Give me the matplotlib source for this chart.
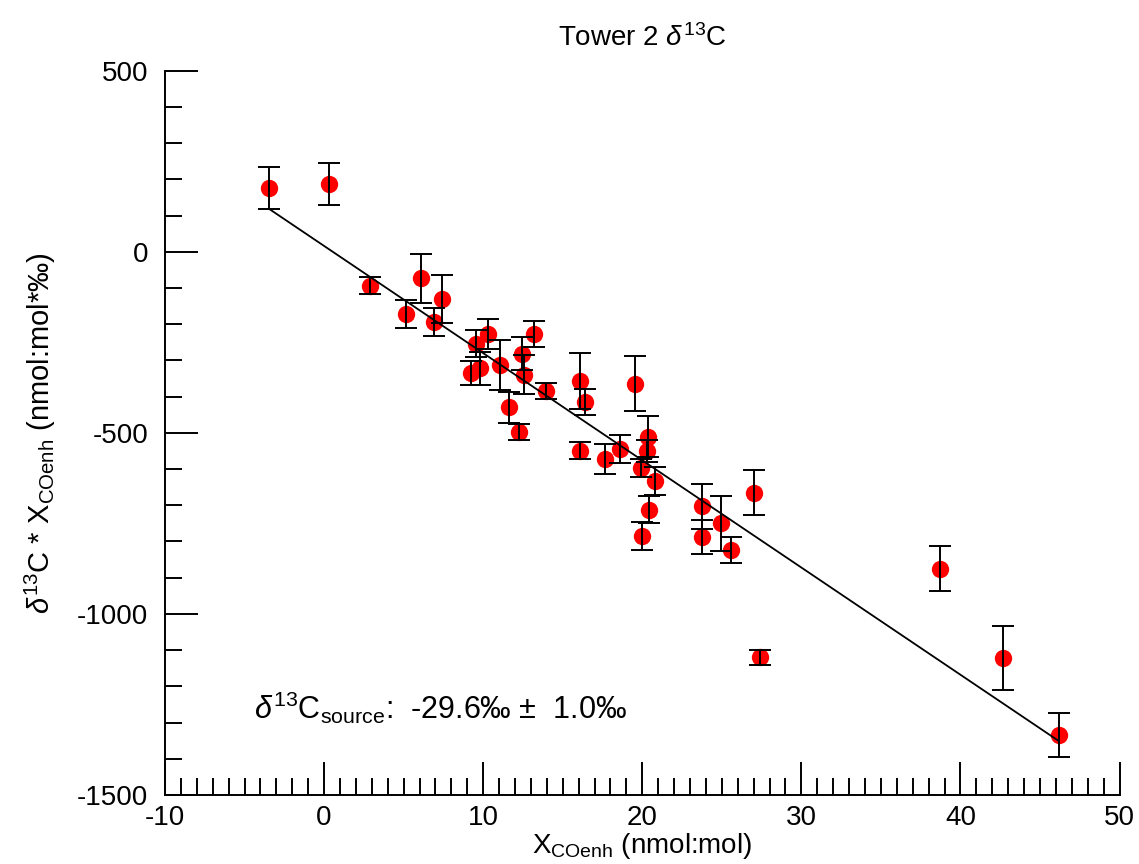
import numpy as np
import matplotlib
matplotlib.use("Agg")
import matplotlib.pyplot as plt
from matplotlib.ticker import MultipleLocator

plt.rcParams['font.family'] = ['Liberation Sans', 'DejaVu Sans']
plt.rcParams['mathtext.fontset'] = 'custom'
plt.rcParams['mathtext.rm'] = 'Liberation Sans'
plt.rcParams['mathtext.it'] = 'Liberation Sans:italic'
plt.rcParams['axes.unicode_minus'] = False

# X_COenh (nmol:mol)
x_co = [-3.46, 0.31, 2.9, 5.14, 6.1, 6.9, 7.42, 9.22, 9.52, 9.77,
        10.33, 11.03, 11.6, 12.28, 12.43, 12.58, 13.21, 13.96, 16.06, 16.37,
        16.06, 17.67, 18.57, 19.52, 20.36, 20.29, 19.91, 20.77, 20.4, 20.0,
        23.74, 23.74, 24.94, 25.6, 27.04, 27.42, 38.7, 42.68, 46.18]
# d13C * X_COenh
d13c_x = [176, 187, -94, -171, -73, -195, -130, -335, -254, -322,
          -227, -314, -430, -498, -281, -339, -227, -384, -357, -415,
          -549, -572, -544, -365, -511, -551, -597, -634, -712, -784,
          -703, -788, -750, -824, -666, -1120, -875, -1122, -1334]
err = [58, 58, 24, 39, 68, 39, 66, 32, 37, 45,
       41, 69, 44, 21, 46, 55, 37, 22, 77, 37,
       23, 41, 39, 76, 57, 30, 26, 39, 37, 39,
       62, 47, 76, 36, 62, 20, 62, 89, 61]

slope = -29.6
intercept = 16.0

fig = plt.figure(figsize=(11.39, 8.64), dpi=100)
ax = fig.add_axes([0.1449, 0.0799, 0.838, 0.8383])

ax.plot(x_co, d13c_x, 'o', color='red', markersize=12.5, markeredgewidth=0, zorder=2)
ax.errorbar(x_co, d13c_x, yerr=err, fmt='none', ecolor='black', elinewidth=1.4,
            capsize=8, capthick=1.4, zorder=3)

xf = np.array([min(x_co), max(x_co)])
ax.plot(xf, slope * xf + intercept, color='black', lw=1.3, zorder=3)

ax.set_xlim(-10, 50)
ax.set_ylim(-1500, 500)
for s in ['top', 'right']:
    ax.spines[s].set_visible(False)
for s in ['left', 'bottom']:
    ax.spines[s].set_linewidth(1.4)

ax.xaxis.set_major_locator(MultipleLocator(10))
ax.xaxis.set_minor_locator(MultipleLocator(1))
ax.yaxis.set_major_locator(MultipleLocator(500))
ax.yaxis.set_minor_locator(MultipleLocator(100))
ax.tick_params(which='major', direction='in', length=24, width=1.4, labelsize=20)
ax.tick_params(which='minor', direction='in', length=12.5, width=1.4)
ax.tick_params(axis='y', which='major', pad=12)
ax.tick_params(axis='x', which='major', pad=7)

ax.set_title(r'Tower 2 $\delta^{13}$C', fontsize=20, pad=18)
ax.set_xlabel(r'X$_{\mathrm{COenh}}$ (nmol:mol)', fontsize=20, labelpad=0)
ax.set_ylabel(r'$\delta^{13}$C * X$_{\mathrm{COenh}}$ (nmol:mol*‰)', fontsize=21, labelpad=14)

ax.text(-4.4, -1258, r'$\delta^{13}$C$_{\mathrm{source}}$:  -29.6‰ $\pm$  1.0‰',
        fontsize=22, va='center', ha='left')

fig.savefig('out.png', dpi=100)
